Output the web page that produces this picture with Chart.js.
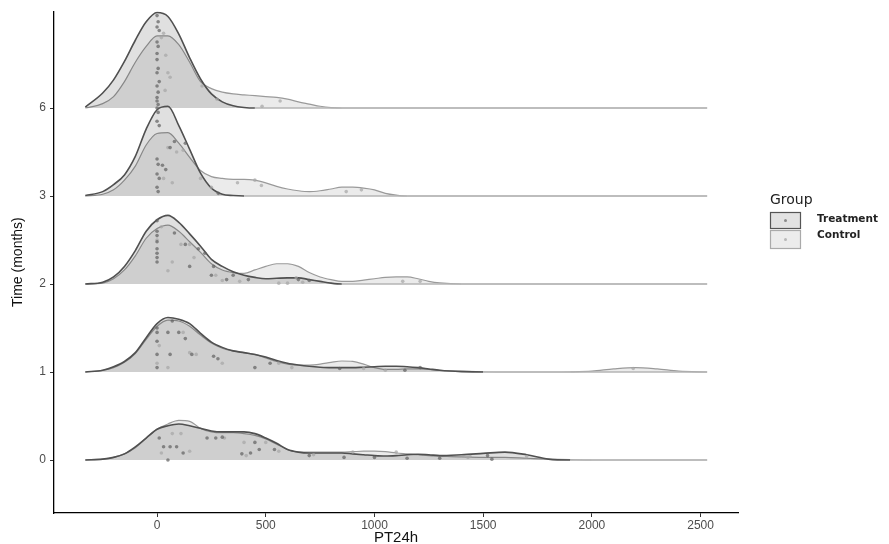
<!DOCTYPE html>
<html><head><meta charset="utf-8">
<script src="https://cdn.jsdelivr.net/npm/chart.js@4.4.1/dist/chart.umd.min.js"></script>
<style>html,body{margin:0;padding:0;background:#fff}#wrap{width:889px;height:544px}</style>
</head><body><div id="wrap"><canvas id="c" width="889" height="544"></canvas></div>
<script>
// ---- data ----
const timeLabels = ['0','1','2','3','6'];
const xTicks = [0,500,1000,1500,2000,2500];
const grid = [-330,-250,-200,-150,-100,-50,0,50,100,150,200,250,300,350,400,450,500,550,600,650,700,750,800,850,900,950,1000,1050,1100,1150,1200,1250,1300,1400,1500,1600,1700,1800,1900,2000,2100,2200,2300,2400,2530];
// density heights (in ridge units) on grid
const treat0 = [0,0.01,0.03,0.07,0.15,0.25,0.35,0.39,0.41,0.39,0.36,0.33,0.32,0.32,0.32,0.30,0.25,0.19,0.12,0.09,0.08,0.08,0.08,0.08,0.07,0.06,0.05,0.045,0.05,0.06,0.065,0.06,0.05,0.06,0.075,0.09,0.06,0.01,0,0,0,0,0,0,0];
const ctrl0  = [0,0.01,0.03,0.07,0.14,0.25,0.35,0.41,0.45,0.44,0.36,0.32,0.31,0.31,0.30,0.28,0.24,0.18,0.12,0.09,0.09,0.09,0.09,0.09,0.095,0.10,0.10,0.095,0.08,0.07,0.06,0.05,0.045,0.035,0.03,0.03,0.02,0.01,0.004,0,0,0,0,0,0];
const treat1 = [0,0.02,0.06,0.12,0.22,0.39,0.55,0.62,0.60,0.55,0.44,0.34,0.28,0.24,0.22,0.20,0.17,0.13,0.10,0.08,0.065,0.055,0.05,0.05,0.05,0.055,0.06,0.065,0.065,0.06,0.05,0.035,0.02,0.005,0,0,0,0,0,0,0,0,0,0,0];
const ctrl1  = [0,0.02,0.05,0.11,0.21,0.37,0.52,0.59,0.58,0.52,0.42,0.33,0.27,0.24,0.22,0.20,0.16,0.12,0.09,0.08,0.08,0.09,0.11,0.125,0.12,0.09,0.05,0.03,0.03,0.035,0.035,0.03,0.02,0.01,0.003,0,0,0,0.002,0.01,0.035,0.05,0.035,0.01,0];
const treat2 = [0,0.02,0.08,0.20,0.38,0.60,0.73,0.78,0.70,0.57,0.43,0.28,0.20,0.14,0.10,0.075,0.06,0.065,0.07,0.07,0.05,0.03,0.01,0,0,0,0,0,0,0,0,0,0,0,0,0,0,0,0,0,0,0,0,0,0];
const ctrl2  = [0,0.01,0.06,0.16,0.32,0.52,0.63,0.67,0.60,0.48,0.36,0.23,0.16,0.13,0.12,0.16,0.20,0.23,0.23,0.20,0.13,0.08,0.05,0.03,0.03,0.045,0.06,0.075,0.08,0.08,0.06,0.03,0.012,0,0,0,0,0,0,0,0,0,0,0,0];
const treat3 = [0.005,0.05,0.13,0.24,0.45,0.76,0.98,1.02,0.80,0.53,0.26,0.09,0.02,0.005,0,0,0,0,0,0,0,0,0,0,0,0,0,0,0,0,0,0,0,0,0,0,0,0,0,0,0,0,0,0,0];
const ctrl3  = [0,0.02,0.07,0.18,0.34,0.58,0.71,0.72,0.60,0.44,0.29,0.22,0.20,0.19,0.19,0.18,0.15,0.11,0.08,0.06,0.05,0.06,0.08,0.10,0.10,0.09,0.07,0.03,0.01,0,0,0,0,0,0,0,0,0,0,0,0,0,0,0,0];
const treat6 = [0.01,0.17,0.32,0.53,0.77,0.98,1.085,1.04,0.84,0.57,0.33,0.16,0.07,0.025,0.006,0,0,0,0,0,0,0,0,0,0,0,0,0,0,0,0,0,0,0,0,0,0,0,0,0,0,0,0,0,0];
const ctrl6  = [0,0.05,0.13,0.30,0.52,0.70,0.82,0.82,0.72,0.52,0.30,0.22,0.18,0.16,0.15,0.14,0.13,0.12,0.10,0.07,0.045,0.02,0.005,0,0,0,0,0,0,0,0,0,0,0,0,0,0,0,0,0,0,0,0,0,0];
// jittered observations: [PT24h, height above ridge baseline]
const ptsT0 = [[10,0.25],[30,0.15],[60,0.15],[90,0.15],[120,0.08],[50,0.0],[230,0.25],[270,0.25],[300,0.26],[390,0.07],[430,0.08],[450,0.2],[470,0.12],[540,0.12],[700,0.05],[860,0.03],[1000,0.03],[1150,0.02],[1300,0.02],[1520,0.05],[1540,0.01]];
const ptsC0 = [[20,0.08],[70,0.3],[110,0.3],[150,0.1],[310,0.25],[400,0.2],[410,0.05],[500,0.2],[560,0.1],[720,0.06],[900,0.09],[1100,0.09],[1430,0.03],[1440,0.04],[1700,0.04]];
const ptsT1 = [[0,0.5],[0,0.35],[0,0.2],[0,0.45],[50,0.45],[70,0.58],[100,0.45],[130,0.38],[0,0.05],[60,0.2],[160,0.2],[280,0.15],[260,0.18],[450,0.05],[520,0.1],[840,0.04],[1140,0.02],[1210,0.05]];
const ptsC1 = [[10,0.3],[50,0.05],[0,0.1],[150,0.22],[120,0.45],[180,0.2],[300,0.1],[560,0.1],[620,0.05],[950,0.04],[1050,0.02],[2190,0.04]];
const ptsT2 = [[0,0.72],[0,0.6],[0,0.55],[0,0.48],[0,0.4],[0,0.35],[0,0.3],[0,0.25],[80,0.58],[130,0.45],[190,0.4],[220,0.35],[150,0.2],[260,0.2],[350,0.1],[320,0.05],[420,0.05],[650,0.05],[700,0.04],[250,0.1]];
const ptsC2 = [[20,0.65],[0,0.5],[50,0.15],[70,0.25],[110,0.45],[150,0.45],[170,0.3],[270,0.1],[380,0.03],[560,0.01],[600,0.01],[640,0.07],[670,0.02],[1130,0.03],[1210,0.03],[300,0.04]];
const ptsT3 = [[0,1.0],[5,0.95],[0,0.85],[10,0.8],[0,0.42],[5,0.36],[0,0.25],[10,0.2],[0,0.1],[5,0.05],[80,0.62],[60,0.55],[130,0.6],[40,0.3],[25,0.35],[282,0.03]];
const ptsC3 = [[50,0.55],[90,0.5],[120,0.52],[200,0.2],[250,0.1],[370,0.15],[450,0.18],[480,0.12],[870,0.05],[940,0.07],[30,0.2],[70,0.15]];
const ptsT6 = [[0,1.05],[5,0.98],[0,0.92],[10,0.88],[0,0.75],[5,0.7],[0,0.62],[0,0.55],[5,0.45],[0,0.4],[10,0.3],[0,0.25],[5,0.18],[0,0.12],[0,0.08],[5,0.04]];
const ptsC6 = [[30,0.85],[20,0.8],[40,0.6],[60,0.35],[50,0.4],[207,0.25],[276,0.1],[483,0.02],[566,0.08],[37,0.2]];

const treatDens = [treat0,treat1,treat2,treat3,treat6];
const ctrlDens = [ctrl0,ctrl1,ctrl2,ctrl3,ctrl6];
const treatPts = [ptsT0,ptsT1,ptsT2,ptsT3,ptsT6];
const ctrlPts = [ptsC0,ptsC1,ptsC2,ptsC3,ptsC6];

// ---- build datasets ----
const flatSeg = (base, color) => ctx => {
  const a = ctx.p0.parsed.y - base, b = ctx.p1.parsed.y - base;
  return (a < 0.004 && b < 0.004) ? '#b4b4b4' : color;
};
const datasets = [];
for (let r = 0; r < 5; r++) {
  datasets.push({
    type:'line', label:'Treatment', data: grid.map((x,i)=>({x, y: r + treatDens[r][i]})),
    borderColor:'#505050', borderWidth:1.6, backgroundColor:'rgba(0,0,0,0.12)',
    segment:{borderColor: flatSeg(r,'#505050')},
    fill:{value:r}, pointRadius:0, cubicInterpolationMode:'monotone', order: r*10+1
  });
  datasets.push({
    type:'line', label:'Control', data: grid.map((x,i)=>({x, y: r + ctrlDens[r][i]})),
    borderColor:'#9a9a9a', borderWidth:1.2, backgroundColor:'rgba(0,0,0,0.08)',
    segment:{borderColor: flatSeg(r,'#9a9a9a')},
    fill:{value:r}, pointRadius:0, cubicInterpolationMode:'monotone', order: r*10+2
  });
  datasets.push({
    type:'scatter', label:'TreatmentPts', data: treatPts[r].map(p=>({x:p[0], y:r+p[1]})),
    pointRadius:1.8, pointBackgroundColor:'rgba(95,95,95,0.7)', pointBorderWidth:0, order: r*10
  });
  datasets.push({
    type:'scatter', label:'ControlPts', data: ctrlPts[r].map(p=>({x:p[0], y:r+p[1]})),
    pointRadius:1.8, pointBackgroundColor:'rgba(165,165,165,0.7)', pointBorderWidth:0, order: r*10
  });
}

const legendPlugin = {
  id:'groupLegend',
  afterDraw(chart){
    const ctx = chart.ctx;
    ctx.save();
    ctx.fillStyle = '#222';
    ctx.font = '14px "DejaVu Sans"';
    ctx.textBaseline = 'middle';
    ctx.fillText('Group', 770, 200);
    const items = [
      {t:'Treatment', y:212, h:17, border:'#555', fill:'#e2e2e2', dot:'#8a8a8a', ty:219},
      {t:'Control', y:230, h:19, border:'#aaa', fill:'#ececec', dot:'#b8b8b8', ty:235}
    ];
    for (const it of items) {
      ctx.fillStyle = it.fill; ctx.fillRect(770, it.y, 31, it.h);
      ctx.strokeStyle = it.border; ctx.lineWidth = 1.2; ctx.strokeRect(770.5, it.y+0.5, 30, it.h-1);
      ctx.fillStyle = it.dot; ctx.beginPath(); ctx.arc(785.5, it.y + it.h/2, 1.5, 0, Math.PI*2); ctx.fill();
      ctx.fillStyle = '#222'; ctx.font = 'bold 10.5px "DejaVu Sans"';
      ctx.fillText(it.t, 817, it.ty);
    }
    ctx.restore();
  }
};

new Chart(document.getElementById('c'), {
  data:{datasets},
  options:{
    responsive:false, animation:false, events:[],
    layout:{padding:{left:0, right:151, top:11, bottom:0}},
    plugins:{legend:{display:false}, tooltip:{enabled:false}},
    scales:{
      x:{type:'linear', min:-474, max:2672,
        afterBuildTicks(s){ s.ticks = xTicks.map(v=>({value:v})); },
        afterFit(s){ s.height = 31; },
        grid:{display:true, drawOnChartArea:false, drawTicks:true, tickLength:4, tickColor:'#333'},
        border:{display:true, color:'#000', width:1.3},
        ticks:{color:'#4d4d4d', font:{family:'"Liberation Sans", Arial', size:12}, padding:1, maxRotation:0, autoSkip:false,
          callback:(v)=>String(v)},
        title:{display:true, text:'PT24h', color:'#111', font:{family:'"Liberation Sans", Arial', size:15}, padding:{top:0,bottom:-3}}
      },
      y:{type:'linear', min:-0.602, max:5.10,
        afterBuildTicks(s){ s.ticks = [0,1,2,3,4].map(v=>({value:v})); },
        afterFit(s){ s.width = 54; },
        grid:{display:true, drawOnChartArea:false, drawTicks:true, tickLength:4, tickColor:'#333'},
        border:{display:true, color:'#000', width:1.3},
        ticks:{color:'#4d4d4d', font:{family:'"Liberation Sans", Arial', size:12}, padding:4,
          callback:(v)=>timeLabels[v]},
        title:{display:true, text:'Time (months)', color:'#111', font:{family:'"Liberation Sans", Arial', size:14}, padding:{top:10,bottom:0}}
      }
    }
  },
  plugins:[legendPlugin]
});
</script></body></html>
